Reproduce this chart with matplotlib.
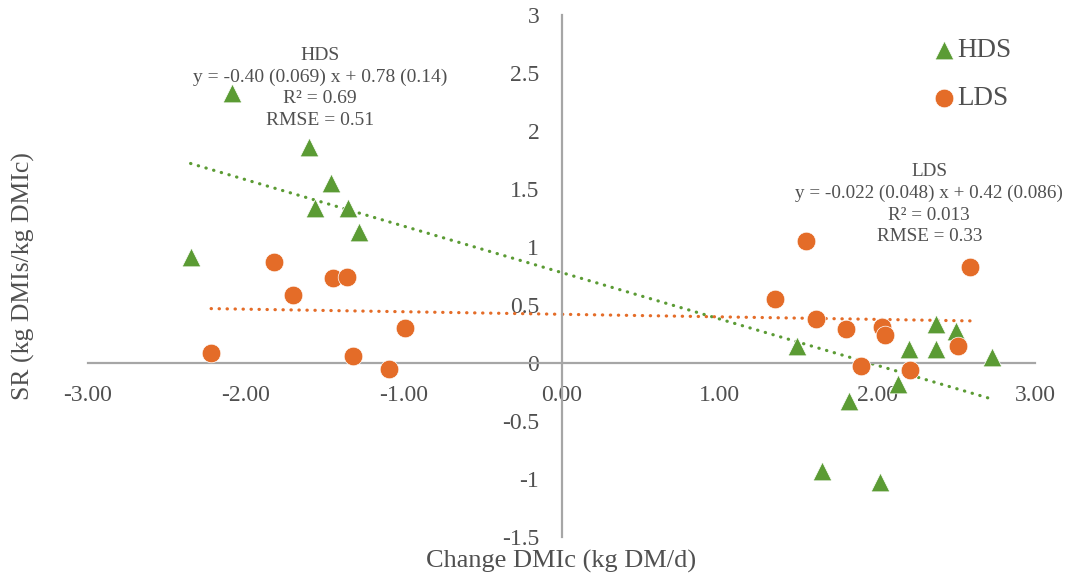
import matplotlib
matplotlib.use("Agg")
import matplotlib.pyplot as plt
import numpy as np

# ---- data ----
hds_x = [-2.09, -1.60, -1.46, -1.56, -1.35, -1.28, -2.35,
         1.49, 2.37, 2.50, 2.20, 2.37, 2.73, 2.13, 1.82, 1.65, 2.02]
hds_y = [2.33, 1.86, 1.55, 1.34, 1.34, 1.13, 0.91,
         0.15, 0.34, 0.28, 0.12, 0.12, 0.05, -0.18, -0.33, -0.93, -1.03]

lds_x = [-1.82, -1.70, -1.45, -1.36, -0.99, -2.22, -1.32, -1.09,
         1.55, 2.59, 1.35, 1.61, 1.80, 2.03, 2.05, 2.51, 1.90, 2.21]
lds_y = [0.87, 0.59, 0.73, 0.74, 0.30, 0.09, 0.06, -0.05,
         1.05, 0.83, 0.55, 0.38, 0.29, 0.31, 0.24, 0.15, -0.03, -0.06]

hds_fit = [-0.40, 0.78]     # slope, intercept
lds_fit = [-0.022, 0.42]

x_ticks = [-3, -2, -1, 0, 1, 2, 3]
x_ticklabels = ["-3.00", "-2.00", "-1.00", "0.00", "1.00", "2.00", "3.00"]
y_ticks = [-1.5, -1, -0.5, 0, 0.5, 1, 1.5, 2, 2.5, 3]
y_ticklabels = ["-1.5", "-1", "-0.5", "0", "0.5", "1", "1.5", "2", "2.5", "3"]

hds_text = "HDS\ny = -0.40 (0.069) x + 0.78 (0.14)\nR\u00b2 = 0.69\nRMSE = 0.51"
lds_text = "LDS\ny = -0.022 (0.048) x + 0.42 (0.086)\nR\u00b2 = 0.013\nRMSE = 0.33"

GREEN = "#5B9B34"
ORANGE = "#E46C28"
TXT = "#505050"
AXC = "#A6A6A6"

plt.rcParams['font.family'] = ['Liberation Serif', 'DejaVu Serif']

fig = plt.figure(figsize=(10.65, 5.77), dpi=100)
ax = fig.add_axes([88/1065, 1-537/577, 947/1065, 522/577])
ax.set_xlim(-3, 3)
ax.set_ylim(-1.5, 3)

# trendlines
for xs, fit, c in [(hds_x, hds_fit, GREEN), (lds_x, lds_fit, ORANGE)]:
    xx = np.array([min(xs), max(xs)])
    ax.plot(xx, fit[0]*xx + fit[1], color=c, lw=2.3,
            linestyle=(0, (0.1, 2.4)), dash_capstyle='round', zorder=2)

ax.scatter(hds_x, hds_y, marker='^', s=180, color=GREEN, edgecolor='white',
           linewidth=0.5, label='HDS', zorder=3)
ax.scatter(lds_x, lds_y, marker='o', s=180, color=ORANGE, edgecolor='white',
           linewidth=0.5, label='LDS', zorder=3)

for side in ['top', 'right']:
    ax.spines[side].set_visible(False)
ax.spines['left'].set_position(('data', 0))
ax.spines['bottom'].set_position(('data', 0))
for side in ['left', 'bottom']:
    ax.spines[side].set_color(AXC)
    ax.spines[side].set_linewidth(1.6)

ax.set_xticks(x_ticks)
ax.set_xticklabels(x_ticklabels)
ax.set_yticks(y_ticks)
ax.set_yticklabels(y_ticklabels)
ax.tick_params(axis='both', length=0, labelsize=17, colors=TXT)
ax.tick_params(axis='x', pad=16)
ax.tick_params(axis='y', pad=16)

ax.set_xlabel("Change DMIc (kg DM/d)", fontsize=19, color=TXT)
ax.set_ylabel("SR (kg DMIs/kg DMIc)", fontsize=18.5, color=TXT)
ax.xaxis.label.set_va('center')
ax.yaxis.label.set_va('center')
ax.xaxis.set_label_coords(0.5, -0.046)
ax.yaxis.set_label_coords(-0.0686, 0.5)

ax.text(-1.53, 2.37, hds_text, ha='center', va='center', fontsize=14,
        color=TXT, linespacing=1.33)
ax.text(2.33, 1.37, lds_text, ha='center', va='center', fontsize=13.8,
        color=TXT, linespacing=1.36)

leg = ax.legend(loc='upper left', bbox_to_anchor=(922/1065, 1-27/577),
                bbox_transform=fig.transFigure, frameon=False, fontsize=19.5,
                handletextpad=0.1, labelspacing=0.85, labelcolor=TXT,
                borderaxespad=0, handlelength=0.8)

fig.savefig("out.png", dpi=100)
